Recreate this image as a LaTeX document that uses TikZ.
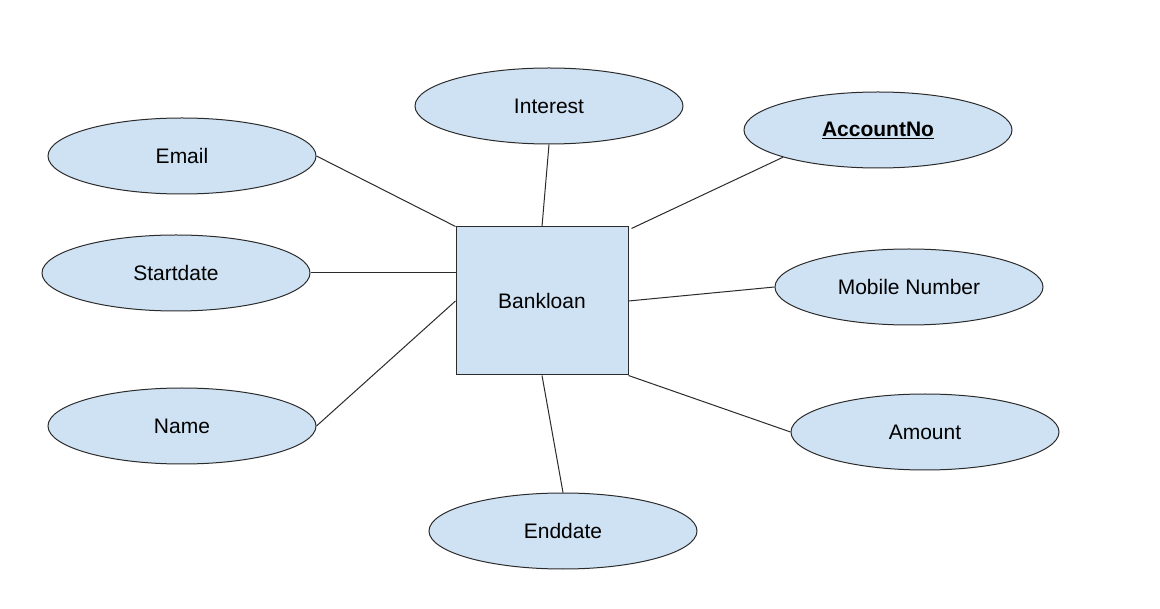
\documentclass[tikz,border=0pt]{standalone}
\usepackage{fontspec}
\setmainfont{Liberation Sans}
\usetikzlibrary{shapes.geometric}
\definecolor{attrfill}{HTML}{CFE2F3}
\definecolor{edgecol}{HTML}{2B2B2B}
\begin{document}
\begin{tikzpicture}[x=1pt,y=-1pt,
  attr/.style={ellipse,draw=edgecol,line width=1pt,fill=attrfill,minimum width=268pt,minimum height=76pt,inner sep=0pt,font=\fontsize{21}{25}\selectfont},
  entity/.style={rectangle,draw=edgecol,line width=1pt,fill=attrfill,minimum width=172pt,minimum height=148pt,inner sep=0pt,font=\fontsize{21}{25}\selectfont},
  link/.style={draw=edgecol,line width=1pt}]
\useasboundingbox (0,0) rectangle (1160,609);
\fill[white] (0,0) rectangle (1160,609);
\node[entity] (bank) at (542,301) {Bankloan};
\node[attr] (interest) at (549,106) {Interest};
\node[attr] (account) at (878,130) {\textbf{\underline{AccountNo}}};
\node[attr] (email) at (182,156) {Email};
\node[attr] (start) at (176,273) {Startdate};
\node[attr] (mobile) at (909,287) {Mobile Number};
\node[attr] (name) at (182,426) {Name};
\node[attr] (amount) at (925,432) {Amount};
\node[attr] (end) at (563,531) {Enddate};
\draw[link] (email.east) -- (bank.north west);
\draw[link] (interest.south) -- (bank.north);
\draw[link] (account.196) -- ([shift={(3,2)}]bank.north east);
\draw[link] (start.east) -- (bank.west |- start.east);
\draw[link] (name.east) -- (bank.west);
\draw[link] (mobile.west) -- (bank.east);
\draw[link] (amount.west) -- (bank.south east);
\draw[link] (end.north) -- (bank.south);
\end{tikzpicture}
\end{document}
